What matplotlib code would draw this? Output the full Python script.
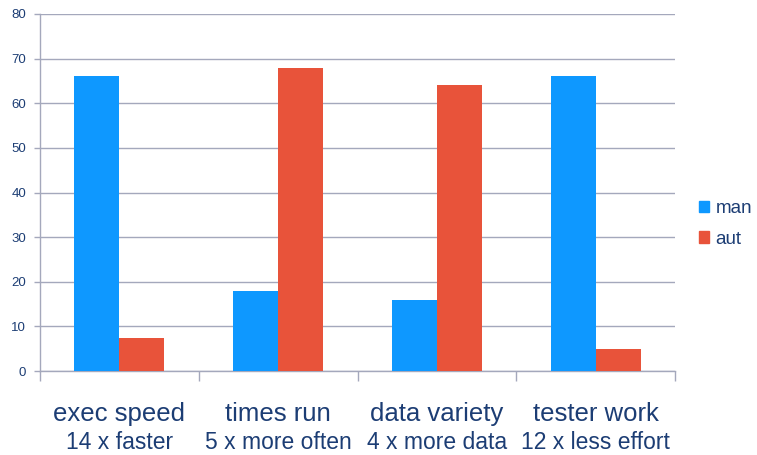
import matplotlib
matplotlib.use("Agg")
import matplotlib.pyplot as plt
import numpy as np
from matplotlib.patches import Patch
from matplotlib.transforms import blended_transform_factory

categories = ["exec speed", "times run", "data variety", "tester work"]
subtitles = ["14 x faster", "5 x more often", "4 x more data", "12 x less effort"]
man = [66, 18, 16, 66]
aut = [7.5, 68, 64, 5]
yticks = [0, 10, 20, 30, 40, 50, 60, 70, 80]

plt.rcParams['font.family'] = ['Liberation Sans', 'DejaVu Sans']
text_color = "#1C3D74"
grid_color = "#A4A8BC"
blue = "#0E98FF"
red = "#E8533A"

fig = plt.figure(figsize=(7.57, 4.55), dpi=100)
ax = fig.add_axes([40/757, 1-371/455, 635/757, 357/455])

x = np.arange(len(categories))
w = 0.283
ax.bar(x - w/2, man, width=w, color=blue, zorder=3)
ax.bar(x + w/2, aut, width=w, color=red, zorder=3)

ax.set_xlim(-0.5, len(categories) - 0.5)
ax.set_ylim(0, 80)
ax.set_yticks(yticks)
ax.set_yticklabels([str(v) for v in yticks], fontsize=9.5, color=text_color)
ax.yaxis.grid(True, color=grid_color, linewidth=1.0, zorder=0)
ax.tick_params(axis='y', length=4, color=grid_color, width=1, pad=6)

ax.set_xticks(np.arange(len(categories) + 1) - 0.5)
ax.set_xticklabels([])
ax.tick_params(axis='x', length=7, color=grid_color, width=1)

for s in ['top', 'right']:
    ax.spines[s].set_visible(False)
for s in ['left', 'bottom']:
    ax.spines[s].set_color(grid_color)
    ax.spines[s].set_linewidth(1.0)
ax.spines['left'].set_bounds(0, 80)

trans = blended_transform_factory(ax.transData, ax.transAxes)
for i, (c, st) in enumerate(zip(categories, subtitles)):
    ax.text(i, -0.12, c, transform=trans, ha='center', va='center',
            fontsize=18.5, color=text_color)
    ax.text(i, -0.2, st, transform=trans, ha='center', va='center',
            fontsize=16.5, color=text_color)

handles = [Patch(color=blue, label="man"), Patch(color=red, label="aut")]
fig.legend(handles=handles, loc='center left', bbox_to_anchor=(682/757, 1-224/455),
           frameon=False, fontsize=13.5, labelcolor=text_color,
           handlelength=0.55, handleheight=0.55, handletextpad=0.35, labelspacing=0.7)

fig.savefig("out.png", dpi=100)
